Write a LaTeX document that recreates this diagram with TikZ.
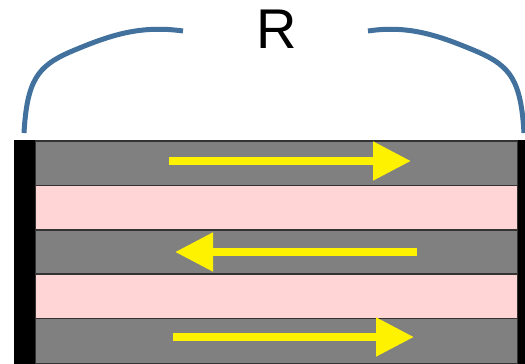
\documentclass[tikz,border=0pt]{standalone}
\usepackage{fontspec}
\setmainfont{Liberation Sans}
\usetikzlibrary{arrows.meta}
\definecolor{stripgray}{HTML}{808080}
\definecolor{strippink}{HTML}{FFD5D5}
\definecolor{edgegray}{HTML}{333333}
\definecolor{bracecol}{HTML}{41719C}
\tikzset{
  graystrip/.style={fill=stripgray, draw=edgegray, line width=1.2pt},
  pinkstrip/.style={fill=strippink, draw=edgegray, line width=1.2pt},
  flow/.style={draw=yellow, line width=8pt, -{Triangle[length=38pt,width=37pt,fill=yellow]}},
  bracepart/.style={draw=bracecol, line width=5pt},
  wall/.style={fill=black}
}
\begin{document}
\begin{tikzpicture}[x=1pt,y=-1pt]
\useasboundingbox (0,0) rectangle (525,364);
% strips
\path[graystrip] (35,141) rectangle (518,185.5);
\path[pinkstrip] (35,185.5) rectangle (518,230);
\path[graystrip] (35,230) rectangle (518,274);
\path[pinkstrip] (35,274) rectangle (518,318.5);
\path[graystrip] (35,318.5) rectangle (518,363.5);
% walls
\path[wall] (14,140) rectangle (35,364);
\path[wall] (518,140) rectangle (526,364);
% arrows
\coordinate (a1s) at (169,161); \coordinate (a1e) at (411,161);
\coordinate (a2s) at (417,252); \coordinate (a2e) at (175,252);
\coordinate (a3s) at (173,337); \coordinate (a3e) at (414,337);
\draw[flow] (a1s) -- (a1e);
\draw[flow] (a2s) -- (a2e);
\draw[flow] (a3s) -- (a3e);
% brace
\draw[bracepart] (24,133) .. controls (27,80) and (38,66) .. (70,52) .. controls (110,35) and (140,25) .. (183,31);
\draw[bracepart] (524,133) .. controls (521,80) and (510,66) .. (478,52) .. controls (438,35) and (408,25) .. (368,31);
\node[font=\fontsize{56}{56}\selectfont, inner sep=0pt] (R) at (277,29) {R};
\end{tikzpicture}
\end{document}
